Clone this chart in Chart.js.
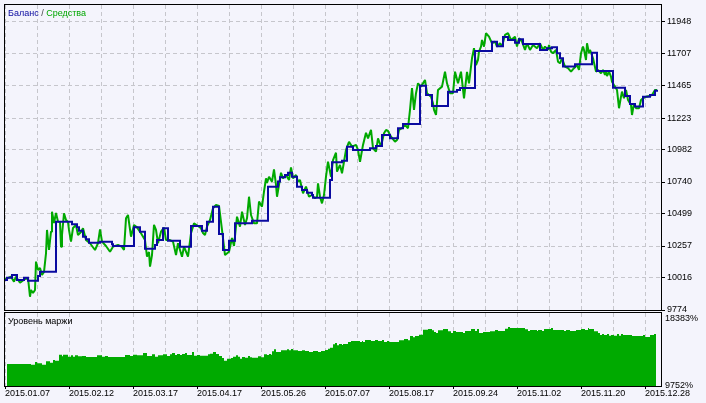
<!DOCTYPE html>
<html><head><meta charset="utf-8">
<script src="https://cdn.jsdelivr.net/npm/chart.js@4/dist/chart.umd.min.js"></script>
<style>
html,body{margin:0;padding:0;background:#F4F4FC;}
#wrap{position:relative;width:706px;height:403px;overflow:hidden;background:#F4F4FC;}
canvas{position:absolute;left:0;top:0;}
.lbl{position:absolute;font-family:"Liberation Sans",Arial,sans-serif;font-size:9px;line-height:11px;white-space:nowrap;}
</style></head><body>
<div id="wrap">
<canvas id="topChart" width="706" height="403"></canvas>
<canvas id="botChart" width="706" height="403"></canvas>
<div class="lbl" style="left:8px;top:8px"><span style="color:#0A0AA0">Баланс</span> <span style="color:#444">/</span> <span style="color:#00A800">Средства</span></div>
<div class="lbl" style="left:8px;top:316px;color:#000">Уровень маржи</div>
</div>
<script>
const dateLabels = ['2015.01.07','2015.02.12','2015.03.17','2015.04.17','2015.05.26','2015.07.07','2015.08.17','2015.09.24','2015.11.02','2015.11.20','2015.12.28'];
const equityTicks = [9774,10016,10257,10499,10740,10982,11223,11465,11707,11948];
const marginTicks = [9752,18383];

const balanceDeal = [0,2,7,12,19,23,33,35,51,67,72,74,78,81,84,95,107,108,129,135,140,150,152,158,163,175,186,197,202,208,214,218,224,230,247,263,273,275,280,283,287,292,297,302,307,308,325,327,337,342,348,365,371,377,385,393,398,415,421,427,443,452,455,470,487,492,498,503,510,514,518,535,542,547,552,555,558,570,587,592,608,620,625,630,638,645,650,653];
const balanceValue = [10000,10018,10038,10000,10018,9995,10031,10063,10441,10421,10398,10373,10327,10308,10282,10290,10270,10257,10398,10365,10237,10265,10302,10391,10297,10252,10408,10373,10441,10554,10348,10227,10297,10428,10448,10705,10743,10776,10793,10810,10780,10705,10680,10659,10642,10622,10755,10889,10901,11007,10982,10995,11012,11095,11070,11146,11178,11467,11397,11314,11422,11435,11450,11729,11799,11765,11835,11812,11792,11817,11782,11737,11750,11757,11712,11674,11611,11629,11716,11578,11452,11389,11329,11309,11384,11397,11429,11429];

const equityDeal = [0,3,6,9,11,15,20,23,25,26,28,30,31,33,35,37,39,41,42,44,46,47,49,51,53,55,56,57,59,61,63,64,66,68,71,73,76,78,81,85,90,93,95,97,101,105,108,113,117,119,121,123,126,129,132,136,140,142,144,145,147,149,151,153,156,159,161,165,168,171,173,177,179,183,186,189,193,196,198,200,202,205,208,211,214,217,220,224,227,229,232,235,237,240,242,244,246,249,252,254,257,259,261,262,264,267,269,271,272,274,276,278,281,284,286,288,291,293,295,298,301,304,307,310,312,313,315,317,319,321,323,324,326,328,331,332,335,337,339,341,344,347,351,353,355,358,361,363,366,368,371,373,376,379,381,383,386,390,392,394,397,400,403,405,407,409,411,413,416,420,422,426,428,429,431,433,437,440,442,445,448,450,453,456,459,462,464,467,469,471,473,474,476,477,479,481,484,487,490,492,495,497,500,503,506,510,512,514,517,520,522,525,528,532,535,538,540,543,544,546,548,551,553,555,557,560,563,566,569,572,574,576,578,579,581,582,584,585,588,591,593,596,598,600,601,602,604,606,607,609,612,614,616,617,619,621,623,626,627,629,631,634,636,638,641,644,647,650,652];
const equityValue = [10008,10016,10025,9988,10025,9980,10008,10016,9874,9925,9902,9925,10139,10076,10091,10038,10061,10202,10378,10227,10365,10516,10431,10506,10441,10438,10252,10340,10504,10453,10438,10378,10290,10393,10416,10340,10363,10391,10302,10278,10227,10278,10383,10290,10257,10214,10252,10265,10250,10227,10466,10491,10327,10416,10398,10353,10302,10176,10212,10101,10189,10416,10378,10278,10365,10395,10302,10302,10290,10189,10278,10176,10252,10176,10353,10428,10408,10391,10355,10340,10403,10453,10542,10567,10559,10378,10189,10214,10318,10257,10478,10403,10516,10416,10466,10629,10491,10428,10428,10592,10554,10667,10768,10733,10780,10743,10836,10718,10629,10718,10810,10768,10793,10755,10851,10768,10793,10743,10755,10655,10705,10629,10642,10617,10629,10730,10629,10579,10642,10780,10893,10856,10780,10906,10961,10818,10869,10806,10893,10982,11044,11007,11020,10982,10893,11020,11112,11070,11133,10995,10969,11070,11007,11108,11133,11125,11082,11044,11057,11133,11146,11171,11146,11284,11448,11284,11410,11485,11460,11510,11410,11384,11334,11284,11246,11435,11460,11573,11485,11410,11410,11573,11485,11573,11372,11571,11485,11674,11750,11623,11661,11724,11762,11812,11762,11863,11837,11787,11799,11762,11787,11762,11850,11863,11812,11837,11762,11825,11799,11737,11787,11737,11774,11750,11787,11737,11762,11737,11774,11724,11712,11737,11648,11636,11674,11611,11599,11573,11599,11623,11586,11712,11762,11737,11661,11787,11712,11737,11674,11573,11586,11561,11586,11548,11573,11540,11573,11535,11497,11472,11435,11297,11384,11422,11372,11435,11359,11322,11246,11334,11297,11297,11359,11372,11384,11389,11397,11435,11435];

const marginDeal = [2,26,30,32,37,41,45,48,50,54,57,58,63,66,68,70,73,77,81,92,97,100,103,120,125,128,132,138,142,147,150,153,158,162,165,167,170,172,175,177,180,182,187,189,192,195,203,205,208,211,214,217,219,222,226,228,231,233,235,237,240,243,245,247,253,256,259,262,264,266,267,269,271,276,282,284,286,288,293,297,300,304,308,313,316,320,323,325,328,330,332,334,337,338,343,346,355,357,358,360,366,370,373,377,379,382,384,394,399,403,405,408,410,414,418,423,427,429,431,433,438,443,446,448,451,458,460,466,470,472,474,478,485,490,493,500,503,505,520,523,525,532,533,537,539,546,548,559,561,565,571,576,580,583,584,589,593,595,597,599,602,604,606,609,612,614,616,618,627,638,640,645,649,651];
const marginValue = [12353,12270,12590,12436,12270,12672,12507,12826,12743,13453,13263,13453,13216,13382,13216,13382,13263,13299,13181,13382,13216,13299,13181,13417,13299,13453,13382,13654,13299,13500,13216,13382,13500,13299,13500,13654,13417,13535,13417,13535,13654,13417,13772,13334,13417,13334,13500,13571,13772,13535,13299,13062,12743,12980,13062,13216,13382,13216,12980,13181,13098,13299,13145,13098,13263,13145,13500,13417,13535,13453,13855,14091,13772,13973,14091,13973,14127,13973,13890,13973,13890,13772,13890,13772,13890,14008,14162,14280,14682,14836,14564,14718,14599,14718,14954,15072,14954,15072,14954,15191,15072,15191,15072,15191,14954,15072,14954,15155,15309,15155,15664,15510,15664,15817,16408,16491,16337,16136,16018,16337,16491,16219,16018,16255,16136,16018,16255,16491,16255,16491,16018,16136,16219,16373,16255,16527,16728,16609,16456,16255,16373,16255,16373,16255,16491,16609,16373,16255,16373,16255,16373,16491,16373,16609,16491,16219,16018,15782,15900,15782,15900,15699,15782,15699,15900,15699,15900,15782,15664,15782,15545,15782,15900,15900];

const FONT = {family:"'Liberation Sans', Arial, sans-serif", size:9};
const GRID = '#C6C6CC';
const DASH = [4,3];

const framePlugin = {
  id:'frame',
  afterDraw(chart){
    const {ctx, chartArea:a} = chart;
    ctx.save();
    ctx.strokeStyle = '#000';
    ctx.lineWidth = 1;
    ctx.strokeRect(a.left-0.5, a.top-0.5, a.right-a.left+1, a.bottom-a.top+1);
    ctx.restore();
  }
};

const toPts = (xs, ys) => xs.map((x,i)=>({x:x, y:ys[i]}));

new Chart(document.getElementById('topChart'), {
  type:'line',
  data:{datasets:[
    {label:'Баланс', data:toPts(balanceDeal,balanceValue), borderColor:'#0A0AA0', borderWidth:2, stepped:'before', pointRadius:0, fill:false},
    {label:'Средства', data:toPts(equityDeal,equityValue), borderColor:'#00A800', borderWidth:2, pointRadius:0, tension:0, fill:false, borderJoinStyle:'bevel'}
  ]},
  options:{
    responsive:false, animation:false, devicePixelRatio:1,
    layout:{padding:{top:5,left:5,right:0,bottom:93}},
    plugins:{legend:{display:false}, tooltip:{enabled:false}},
    scales:{
      x:{type:'linear', min:0, max:656, position:'bottom',
        ticks:{display:false, stepSize:32, includeBounds:false},
        grid:{color:GRID, drawTicks:false},
        border:{display:false, dash:DASH},
        afterFit(s){ s.height=0; s.paddingLeft=0; s.paddingRight=0; }
      },
      y:{type:'linear', position:'right', min:9774, max:12076,
        afterBuildTicks(s){ s.ticks = equityTicks.map(v=>({value:v})); },
        ticks:{color:'#000', padding:2, font:FONT, callback:(v)=>String(v)},
        grid:{color:GRID, tickColor:'#000', tickLength:4, tickBorderDash:[10,0]},
        border:{display:false, dash:DASH},
        afterFit(s){ s.width=45; s.paddingTop=0; s.paddingBottom=0; }
      }
    }
  },
  plugins:[framePlugin]
});

new Chart(document.getElementById('botChart'), {
  type:'line',
  data:{datasets:[
    {label:'Уровень маржи', data:toPts(marginDeal,marginValue), stepped:'before', fill:'start', backgroundColor:'#00AA00', borderColor:'#00AA00', borderWidth:0, pointRadius:0}
  ]},
  options:{
    responsive:false, animation:false, devicePixelRatio:1,
    layout:{padding:{top:313,left:5,right:0,bottom:0}},
    plugins:{legend:{display:false}, tooltip:{enabled:false}},
    scales:{
      x:{type:'linear', min:0, max:656, position:'bottom',
        ticks:{stepSize:32, includeBounds:false, autoSkip:false, maxRotation:0, minRotation:0, align:'start', padding:0, color:'#000',
          font:{family:FONT.family, size:9, lineHeight:1},
          callback:(v)=> (v%64===0 && dateLabels[v/64]) ? dateLabels[v/64] : ''},
        grid:{color:GRID, tickLength:3, tickBorderDash:[10,0],
          tickColor:(c)=> (c.tick && c.tick.value%64===0) ? '#000' : 'rgba(0,0,0,0)'},
        border:{display:false, dash:DASH},
        afterFit(s){ s.height=17; s.paddingLeft=0; s.paddingRight=0; }
      },
      y:{type:'linear', position:'right', min:9752, max:18383,
        afterBuildTicks(s){ s.ticks = marginTicks.map(v=>({value:v})); },
        ticks:{color:'#000', padding:4, font:FONT, callback:(v)=> v===marginTicks[1] ? ['', v+'%'] : v+'%'},
        grid:{drawOnChartArea:false, drawTicks:false},
        border:{display:false},
        afterFit(s){ s.width=45; s.paddingTop=0; s.paddingBottom=0; }
      }
    }
  },
  plugins:[framePlugin]
});
</script>
</body></html>
